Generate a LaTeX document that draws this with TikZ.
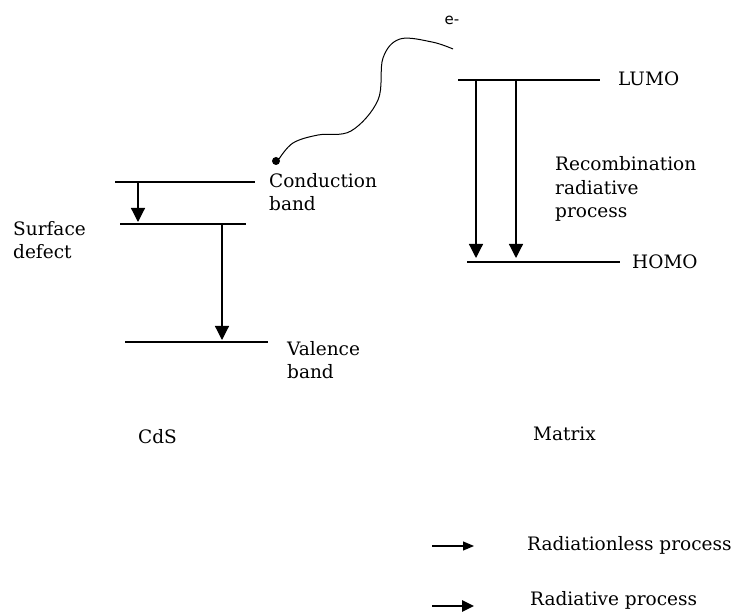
\documentclass[tikz,border=0pt]{standalone}
\usepackage{fontspec}
\setmainfont{DejaVu Serif}
\setsansfont{DejaVu Sans}
\usetikzlibrary{arrows.meta, positioning}
\tikzset{level/.style={line width=1.2pt},
  transition/.style={line width=1.2pt, -{Triangle[width=14pt,length=14pt]}},
  label_text/.style={align=left, inner sep=0pt, font=\fontsize{18.5}{23.5}\selectfont}}

\begin{document}
\begin{tikzpicture}[x=1pt, y=-1pt]
            \useasboundingbox (0,0) rectangle (734,612);
            % CdS levels
            \coordinate (conduction_l) at (115,182); \coordinate (conduction_r) at (255,182);
            \coordinate (defect_l) at (120,224); \coordinate (defect_r) at (246,224);
            \coordinate (valence_l) at (125,342); \coordinate (valence_r) at (268,342);
            \draw[level] (conduction_l) -- (conduction_r);
            \draw[level] (defect_l) -- (defect_r);
            \draw[level] (valence_l) -- (valence_r);
            \coordinate (c_down) at (138,182); \coordinate (d_up) at (138,222);
            \coordinate (d_down) at (222,224); \coordinate (v_up) at (222,340);
            \draw[transition] (c_down) -- (d_up);
            \draw[transition] (d_down) -- (v_up);
            \node[label_text, anchor=west] (conduction_band) at (269,192) {Conduction\\band};
            \node[label_text, anchor=west] (surface_defect) at (13,240) {Surface\\defect};
            \node[label_text, anchor=west] (valence_band) at (287,360) {Valence\\band};
            \node[label_text, anchor=west] (cds) at (138,437) {CdS};
            % matrix levels
            \coordinate (lumo_l) at (458,80); \coordinate (lumo_r) at (600,80);
            \coordinate (homo_l) at (467,262); \coordinate (homo_r) at (620,262);
            \draw[level] (lumo_l) -- (lumo_r);
            \draw[level] (homo_l) -- (homo_r);
            \draw[transition] (lumo_l -| 476,0) -- (476,258);
            \draw[transition] (lumo_l -| 516,0) -- (516,258);
            \node[label_text, anchor=west] (lumo) at (618,79) {LUMO};
            \node[label_text, anchor=west] (homo) at (632,262) {HOMO};
            \node[label_text, anchor=west] (recombination) at (555,189) {Recombination\\radiative\\process};
            \node[label_text, anchor=west] (matrix) at (533,434) {Matrix};
            % electron
            \node[font=\sffamily\fontsize{15}{17}\selectfont, inner sep=0pt] (electron) at (452,20) {e-};
            \coordinate (e_start) at (453,49); \coordinate (e_end) at (279,159);
            \draw[line width=1pt] plot[smooth, tension=0.6] coordinates {(e_start) (432,42) (400,39) (383,58) (378,100) (351,131) (318,135) (293,143) (e_end)};
            \fill (276,161) circle (4pt);
            % legend
            \coordinate (thin_l) at (432,546); \coordinate (thin_r) at (474,546);
            \coordinate (thick_l) at (432,606); \coordinate (thick_r) at (474,606);
            \draw[line width=1.2pt, -{Triangle[width=9pt,length=11pt]}] (thin_l) -- (thin_r);
            \draw[line width=2.6pt, -{Triangle[width=11pt,length=12pt]}] (thick_l) -- (thick_r);
            \node[label_text, anchor=west] (radiationless) at (527,545) {Radiationless process};
            \node[label_text, anchor=west] (radiative) at (530,600) {Radiative process};
      \end{tikzpicture}
\end{document}
